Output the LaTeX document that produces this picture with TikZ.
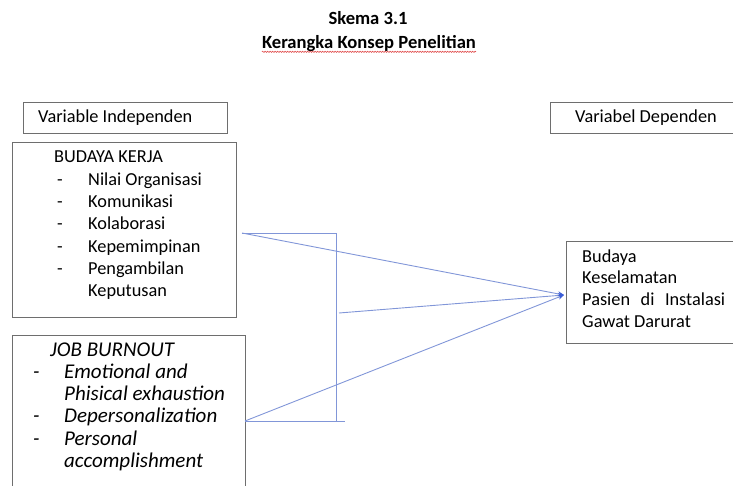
\documentclass[tikz,border=0pt]{standalone}
\usepackage{fontspec}
\setmainfont{Carlito}
\usetikzlibrary{arrows.meta,decorations.pathmorphing}
\definecolor{boxgray}{HTML}{6E6E6E}
\definecolor{lineblue}{HTML}{8196D8}
\definecolor{tipblue}{HTML}{3A5CD6}
\definecolor{spellred}{HTML}{E05050}
\newcommand\bitem[1]{\hspace*{3pt}\makebox[31pt][l]{-}#1}
\newcommand\jitem[1]{\makebox[31pt][l]{-}#1}
\begin{document}
\begin{tikzpicture}[x=1pt,y=-1pt,
  box/.style={draw=boxgray,line width=1.1pt,inner sep=0pt,anchor=north west},
  txt/.style={inner sep=0pt,anchor=base west,font=\fontsize{18.3}{22.3}\selectfont},
  ttl/.style={inner sep=0pt,anchor=base,font=\fontsize{18.6}{22}\selectfont\bfseries},
  conn/.style={draw=lineblue,line width=0.9pt},
  arr/.style={conn,-{Stealth[length=6pt,width=5pt,color=tipblue]}}]
\useasboundingbox (0,0) rectangle (733,486);
% titles
\node[ttl] (t1) at (368,25) {Skema 3.1};
\node[ttl] (t2) at (369,49) {Kerangka Konsep Penelitian};
\draw[spellred,line width=0.6pt,decorate,decoration={snake,amplitude=0.6pt,segment length=2.5pt}]
  ([yshift=-2.8pt]t2.base west) -- ([yshift=-2.8pt]t2.base east);
% boxes
\node[box,minimum width=204pt,minimum height=31pt] (vi) at (23,102) {};
\node[box,minimum width=190pt,minimum height=31pt] (vd) at (550,102) {};
\node[box,minimum width=224pt,minimum height=175pt] (bk) at (12,142) {};
\node[box,minimum width=233pt,minimum height=165pt] (jb) at (12,335) {};
\node[box,minimum width=180pt,minimum height=102pt] (dep) at (566,241) {};
% texts
\node[txt] (vit) at (38,123) {Variable Independen};
\node[txt] (vdt) at (575,123) {Variabel Dependen};
\node[txt] (bkt) at (54,163) {\begin{tabular}[t]{@{}l@{}}
BUDAYA KERJA\\
\bitem{Nilai Organisasi}\\
\bitem{Komunikasi}\\
\bitem{Kolaborasi}\\
\bitem{Kepemimpinan}\\
\bitem{Pengambilan}\\
\hspace*{34pt}Keputusan
\end{tabular}};
\node[txt,font=\fontsize{21}{22.3}\selectfont\itshape] (jbt) at (33,356) {\begin{tabular}[t]{@{}l@{}}
\hspace*{17pt}JOB BURNOUT\\
\jitem{Emotional and}\\
\hspace*{31pt}Phisical exhaustion\\
\jitem{Depersonalization}\\
\jitem{Personal}\\
\hspace*{31pt}accomplishment
\end{tabular}};
\node[txt,font=\fontsize{18.3}{21.7}\selectfont] (dept) at (582,262) {\begin{tabular}[t]{@{}l@{}}
Budaya\\
Keselamatan\\
\hbox to 143pt{Pasien\hfil di\hfil Instalasi}\\
Gawat Darurat
\end{tabular}};
% connectors
\coordinate (bkout) at (242,233);
\coordinate (jbout) at (245,421);
\coordinate (brtop) at (336,233);
\coordinate (brbot) at (336,421);
\coordinate (brend) at (345,421);
\coordinate (brmid) at (339,313);
\coordinate (tip) at (564,295);
\draw[conn] (bkout) -- (brtop) -- (brbot);
\draw[conn] (jbout) -- (brend);
\draw[arr] (bkout) -- (tip);
\draw[arr] (brmid) -- (tip);
\draw[arr] (jbout) -- (tip);
\end{tikzpicture}
\end{document}
